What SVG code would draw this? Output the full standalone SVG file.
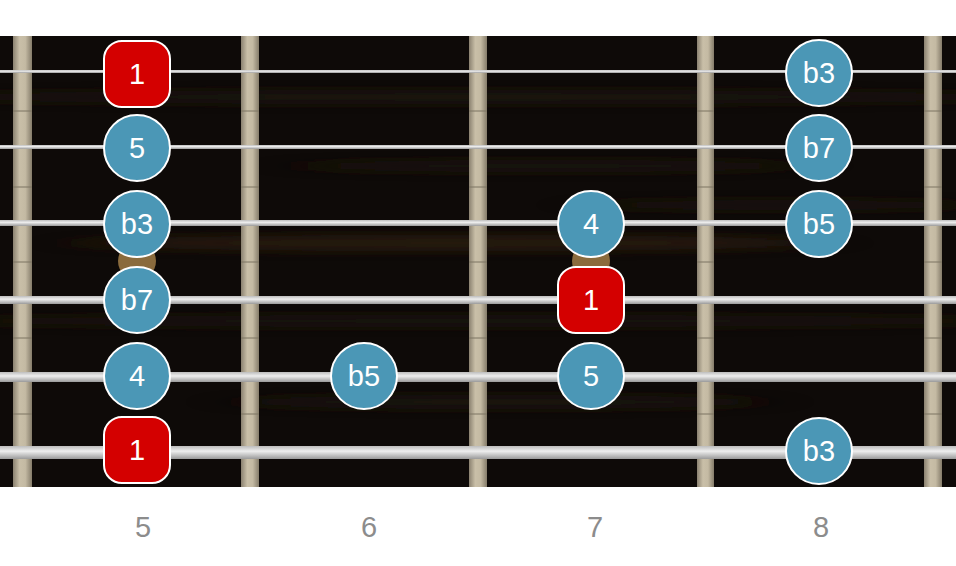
<svg xmlns="http://www.w3.org/2000/svg" width="956" height="566" viewBox="0 0 956 566">
  <defs>
    <linearGradient id="fretGrad" x1="0" y1="0" x2="1" y2="0">
      <stop offset="0" stop-color="#8a8170"/>
      <stop offset="0.35" stop-color="#c9bfa8"/>
      <stop offset="0.65" stop-color="#c4baa3"/>
      <stop offset="1" stop-color="#857c6a"/>
    </linearGradient>
    <linearGradient id="strGrad" x1="0" y1="0" x2="0" y2="1">
      <stop offset="0" stop-color="#bdbdbd"/>
      <stop offset="0.4" stop-color="#eeeeee"/>
      <stop offset="1" stop-color="#9a9a9a"/>
    </linearGradient>
    <filter id="blur" filterUnits="userSpaceOnUse" x="-100" y="0" width="1156" height="566">
      <feGaussianBlur stdDeviation="25 5"/>
    </filter>
    <clipPath id="boardClip"><rect x="0" y="36" width="956" height="451"/></clipPath>
  </defs>
  <style>
    .fret { fill: url(#fretGrad); }
    .tick { stroke: #7d7462; stroke-width: 1; }
    .str { fill: url(#strGrad); }
    .inlay { fill: #8a6b3d; }
    .note circle { fill: #4b97b6; stroke: #ffffff; stroke-width: 2; }
    .root rect { fill: #d40000; stroke: #ffffff; stroke-width: 2; }
    .note text, .root text { fill: #ffffff; font-family: "Liberation Sans", Arial, sans-serif; font-size: 29px; text-anchor: middle; }
    .fretnum { fill: #8c8c8c; font-family: "Liberation Sans", Arial, sans-serif; font-size: 29px; text-anchor: middle; }
  </style>

  <rect x="0" y="0" width="956" height="566" fill="#ffffff"/>

  <g id="fretboard">
    <rect x="0" y="36" width="956" height="451" fill="#0e0a08"/>
    <g filter="url(#blur)" clip-path="url(#boardClip)" opacity="0.85">
      <ellipse cx="478" cy="97" rx="560" ry="7" fill="#1d1410"/>
      <ellipse cx="550" cy="166" rx="260" ry="6" fill="#1f150e"/>
      <ellipse cx="450" cy="243" rx="380" ry="8" fill="#2a1a0f"/>
      <ellipse cx="478" cy="321" rx="560" ry="6" fill="#1b130d"/>
      <ellipse cx="500" cy="402" rx="270" ry="7" fill="#1a130e"/>
      <ellipse cx="780" cy="205" rx="200" ry="5" fill="#1d140f"/>
    </g>
  </g>

  <g id="frets">
    <rect class="fret" x="13" y="36" width="19" height="451"/>
    <rect class="fret" x="241" y="36" width="18" height="451"/>
    <rect class="fret" x="469" y="36" width="18" height="451"/>
    <rect class="fret" x="697" y="36" width="17" height="451"/>
    <rect class="fret" x="924" y="36" width="18" height="451"/>
    <g class="tick">
      <path d="M13 111H32M13 187H32M13 262H32M13 338H32M13 414H32"/>
      <path d="M241 111H259M241 187H259M241 262H259M241 338H259M241 414H259"/>
      <path d="M469 111H487M469 187H487M469 262H487M469 338H487M469 414H487"/>
      <path d="M697 111H714M697 187H714M697 262H714M697 338H714M697 414H714"/>
      <path d="M924 111H942M924 187H942M924 262H942M924 338H942M924 414H942"/>
    </g>
  </g>

  <g id="inlays">
    <circle class="inlay" cx="137" cy="261" r="19"/>
    <circle class="inlay" cx="591" cy="261" r="19"/>
  </g>

  <g id="strings">
    <rect class="str" x="0" y="70" width="956" height="3"/>
    <rect class="str" x="0" y="145" width="956" height="4"/>
    <rect class="str" x="0" y="220" width="956" height="6"/>
    <rect class="str" x="0" y="296" width="956" height="8"/>
    <rect class="str" x="0" y="372" width="956" height="10"/>
    <rect class="str" x="0" y="446" width="956" height="13"/>
  </g>

  <g id="n-s1-f5" class="root"><rect x="104" y="41" width="66" height="66" rx="18"/><text x="137" y="84">1</text></g>
  <g id="n-s1-f8" class="note"><circle cx="819" cy="73" r="33"/><text x="819" y="83">b3</text></g>

  <g id="n-s2-f5" class="note"><circle cx="137" cy="148" r="33"/><text x="137" y="158">5</text></g>
  <g id="n-s2-f8" class="note"><circle cx="819" cy="148" r="33"/><text x="819" y="158">b7</text></g>

  <g id="n-s3-f5" class="note"><circle cx="137" cy="224" r="33"/><text x="137" y="234">b3</text></g>
  <g id="n-s3-f7" class="note"><circle cx="591" cy="224" r="33"/><text x="591" y="234">4</text></g>
  <g id="n-s3-f8" class="note"><circle cx="819" cy="224" r="33"/><text x="819" y="234">b5</text></g>

  <g id="n-s4-f5" class="note"><circle cx="137" cy="300" r="33"/><text x="137" y="310">b7</text></g>
  <g id="n-s4-f7" class="root"><rect x="558" y="267" width="66" height="66" rx="18"/><text x="591" y="310">1</text></g>

  <g id="n-s5-f5" class="note"><circle cx="137" cy="376" r="33"/><text x="137" y="386">4</text></g>
  <g id="n-s5-f6" class="note"><circle cx="364" cy="376" r="33"/><text x="364" y="386">b5</text></g>
  <g id="n-s5-f7" class="note"><circle cx="591" cy="376" r="33"/><text x="591" y="386">5</text></g>

  <g id="n-s6-f5" class="root"><rect x="104" y="417" width="66" height="66" rx="18"/><text x="137" y="460">1</text></g>
  <g id="n-s6-f8" class="note"><circle cx="819" cy="451" r="33"/><text x="819" y="461">b3</text></g>

  <g id="fret-numbers">
    <text class="fretnum" x="143" y="537">5</text>
    <text class="fretnum" x="369" y="537">6</text>
    <text class="fretnum" x="595" y="537">7</text>
    <text class="fretnum" x="821" y="537">8</text>
  </g>
</svg>
